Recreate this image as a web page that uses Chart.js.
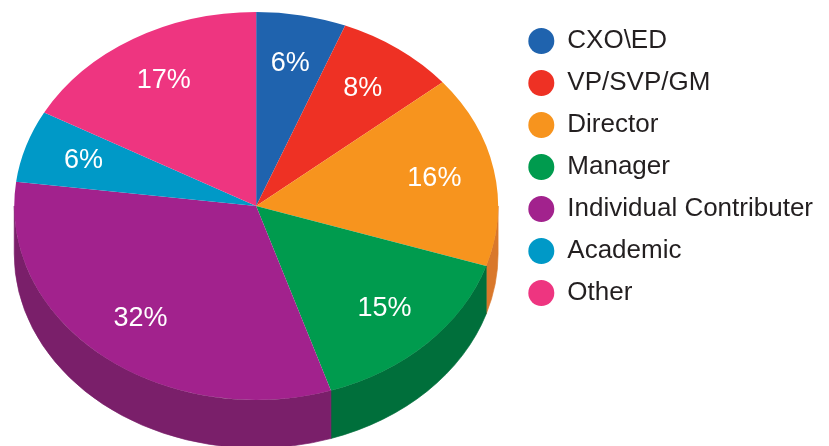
<!DOCTYPE html>
<html>
<head>
<meta charset="utf-8">
<script src="https://cdn.jsdelivr.net/npm/chart.js@4.4.1/dist/chart.umd.min.js"></script>
<style>
  html, body { margin: 0; padding: 0; background: #fff; }
  #wrap { width: 829px; height: 446px; }
</style>
</head>
<body>
<div id="wrap"><canvas id="pieChart"></canvas></div>
<script>
// Data
const categories = ['CXO\\ED', 'VP/SVP/GM', 'Director', 'Manager', 'Individual Contributer', 'Academic', 'Other'];
const shares = [6, 8, 16, 15, 32, 6, 17];
const topColors = ['#1f63ae', '#ee3124', '#f7941e', '#009b4e', '#a2228d', '#0099c7', '#ee3580'];
const sideColors = ['#174a82', '#b3251b', '#d9782b', '#006f3b', '#7a1f6a', '#007396', '#b32860'];

const FONT = "'Liberation Sans', Arial, sans-serif";
const STRETCH_X = 1.247;   // pie is wider than tall (tilted view)
const DEPTH = 48;          // thickness of the pie side
const LABEL_POS = 0.75;    // label distance from centre, fraction of radius

// fake 3D: squash the pie, draw the sides first, then the labels on top
const pie3d = {
    id: 'pie3d',
    beforeDatasetsDraw(chart) {
        const ctx = chart.ctx;
        const arcs = chart.getDatasetMeta(0).data;
        const x = arcs[0].x, y = arcs[0].y;
        ctx.save();
        ctx.translate(x, y);
        ctx.scale(STRETCH_X, 1);
        ctx.translate(-x, -y);
        arcs.forEach((arc, i) => {
            const a = Math.max(arc.startAngle, 0);
            const b = Math.min(arc.endAngle, Math.PI);
            if (a >= b) return;
            ctx.beginPath();
            ctx.arc(x, y, arc.outerRadius, a, b);
            ctx.arc(x, y + DEPTH, arc.outerRadius, b, a, true);
            ctx.closePath();
            ctx.fillStyle = sideColors[i];
            ctx.strokeStyle = sideColors[i];
            ctx.lineWidth = 0.6;
            ctx.fill();
            ctx.stroke();
        });
    },
    afterDatasetsDraw(chart) {
        const ctx = chart.ctx;
        ctx.restore();
        const arcs = chart.getDatasetMeta(0).data;
        ctx.save();
        ctx.fillStyle = '#ffffff';
        ctx.font = '27px ' + FONT;
        ctx.textAlign = 'center';
        ctx.textBaseline = 'middle';
        arcs.forEach((arc, i) => {
            const mid = (arc.startAngle + arc.endAngle) / 2;
            const r = arc.outerRadius * LABEL_POS;
            ctx.fillText(shares[i] + '%', arc.x + STRETCH_X * r * Math.cos(mid), arc.y + r * Math.sin(mid));
        });
        ctx.restore();
    }
};

const ctxPie = document.getElementById('pieChart').getContext('2d');
const pieChart = new Chart(ctxPie, {
    type: 'pie',
    data: {
        labels: categories,
        datasets: [{
            data: shares,
            backgroundColor: topColors,
            borderWidth: 0,
            hoverOffset: 0
        }]
    },
    options: {
        responsive: true,
        maintainAspectRatio: false,
        animation: false,
        events: [],
        layout: { padding: { left: 0, top: 12, bottom: 46, right: 6 } },
        plugins: {
            tooltip: { enabled: false },
            legend: {
                position: 'right',
                align: 'start',
                labels: {
                    usePointStyle: true,
                    pointStyle: 'circle',
                    boxHeight: 18.4,
                    pointStyleWidth: 26,
                    padding: 16,
                    color: '#231f20',
                    font: { size: 26, family: FONT }
                }
            }
        }
    },
    plugins: [pie3d]
});
</script>
</body>
</html>
